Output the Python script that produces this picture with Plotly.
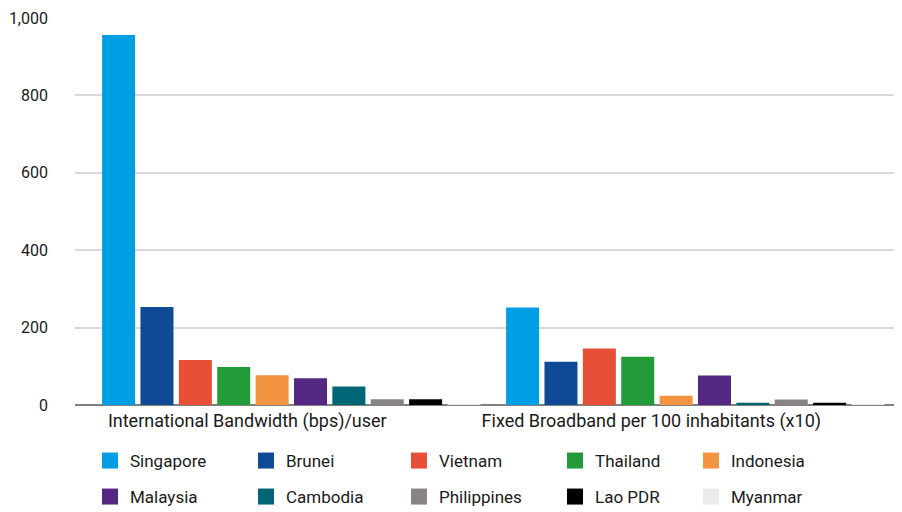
import plotly.graph_objects as go

categories = ["International Bandwidth (bps)/user", "Fixed Broadband per 100 inhabitants (x10)"]
countries = ["Singapore", "Brunei", "Vietnam", "Thailand", "Indonesia",
             "Malaysia", "Cambodia", "Philippines", "Lao PDR", "Myanmar"]
singapore = [956, 252]
brunei = [253, 112]
vietnam = [116, 146]
thailand = [98, 125]
indonesia = [77, 24]
malaysia = [69, 76]
cambodia = [48, 6]
philippines = [15, 14]
lao_pdr = [15, 6]
myanmar = [1, 1]
tick_vals = [0, 200, 400, 600, 800, 1000]
tick_text = ["0", "200", "400", "600", "800", "1,000"]

# styling
colors = ["#009FE3", "#104A96", "#E84F37", "#239B38", "#F39441",
          "#532782", "#006574", "#878483", "#000000", "#EBEBEA"]
legend_widths = [111, 108, 111, 91, 80, 111, 108, 111, 91, 80]
series = [singapore, brunei, vietnam, thailand, indonesia,
          malaysia, cambodia, philippines, lao_pdr, myanmar]

FONT = "Roboto"
TXT = "#1a1a1a"
# the page body has an 8px margin; figure is sized to fill the rest of the window
W, H = 894, 504

fig = go.Figure()
for i, (name, vals, col) in enumerate(zip(countries, series, colors)):
    leg = "legend" if i < 5 else "legend2"
    fig.add_trace(go.Bar(name=name, x=categories, y=vals,
                         marker=dict(color=col, line=dict(width=0)),
                         legendgroup=name, showlegend=False))
    # legend swatch (square) for the same series
    fig.add_trace(go.Scatter(name=name, x=[None], y=[None], mode="markers",
                             marker=dict(color=col, symbol="square", size=16,
                                         line=dict(width=0)),
                             legendgroup=name, showlegend=True, legend=leg,
                             legendwidth=legend_widths[i], hoverinfo="skip"))

leg_common = dict(orientation="h", xref="container", yref="container",
                  x=82 / W, xanchor="left", yanchor="middle",
                  entrywidthmode="pixels", traceorder="normal",
                  itemsizing="trace",
                  font=dict(family=FONT, size=17, color=TXT),
                  bgcolor="rgba(0,0,0,0)")

fig.update_layout(
    width=W, height=H,
    margin=dict(l=67, r=0, t=10, b=107, autoexpand=False),
    paper_bgcolor="white", plot_bgcolor="white",
    barmode="group", bargap=0.05, bargroupgap=0.14,
    font=dict(family=FONT, size=16, color=TXT),
    showlegend=True,
    legend=dict(y=1 - 453 / H, **leg_common),
    legend2=dict(y=1 - 489 / H, **leg_common),
)
fig.update_xaxes(type="category", range=[-0.5354, 1.5116], showgrid=False,
                 showline=False, ticks="", tickfont=dict(size=18),
                 ticklabelshift=-44, ticklabelstandoff=3)
fig.update_yaxes(range=[0, 1000], tickvals=tick_vals, ticktext=tick_text,
                 showgrid=True, gridcolor="#D9D9D9", gridwidth=1.5,
                 zeroline=True, zerolinecolor="#808080", zerolinewidth=2,
                 showline=False, ticks="", ticklabelstandoff=26,
                 ticklabeloverflow="allow",
                 tickfont=dict(size=16))
fig.write_html("out.html")
